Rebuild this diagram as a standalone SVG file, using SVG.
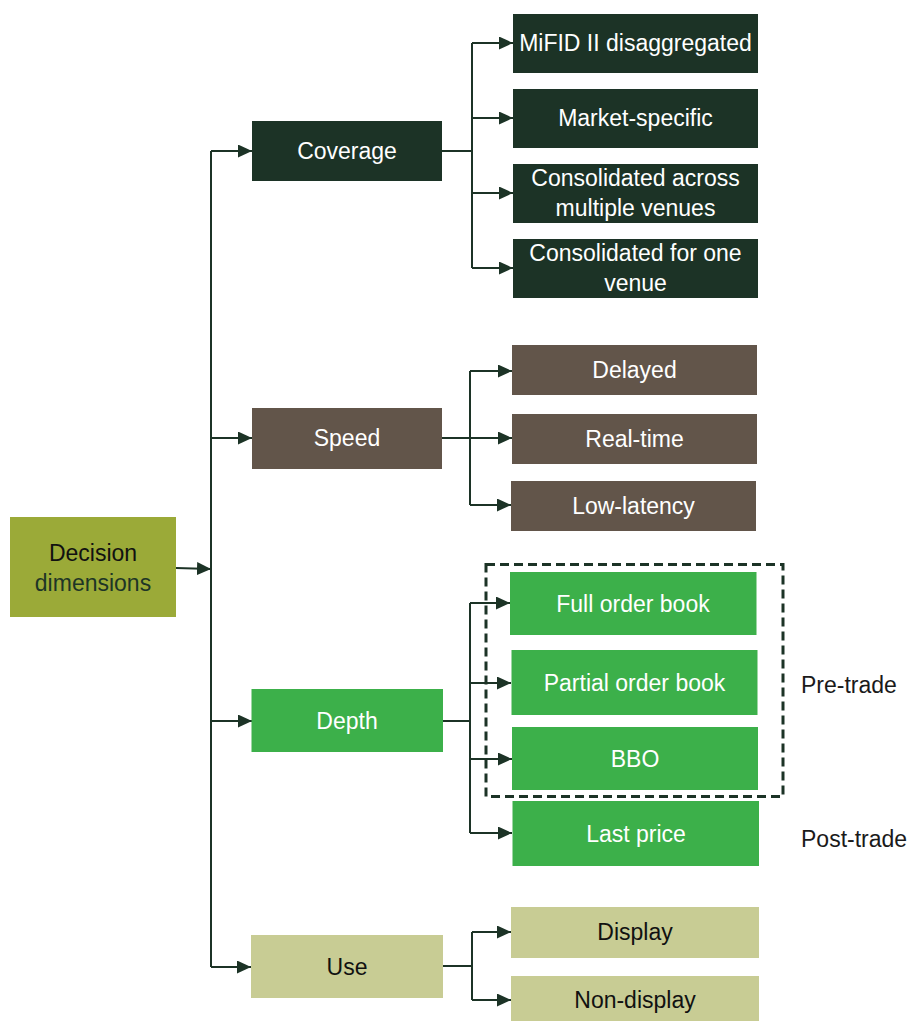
<svg xmlns="http://www.w3.org/2000/svg" width="911" height="1021" viewBox="0 0 911 1021">
  <defs>
    <marker id="arr" viewBox="0 0 14 13" refX="14" refY="6.5" markerWidth="14" markerHeight="13" markerUnits="userSpaceOnUse" orient="auto">
      <path d="M0,0 L14,6.5 L0,13 z" fill="#1c3326"/>
    </marker>
    <style>
      text { font-family: "Liberation Sans", Arial, sans-serif; font-size: 23px; text-anchor: middle; }
      .w { fill: #ffffff; }
      .k { fill: #111111; }
      .cov { fill: #1c3326; }
      .spd { fill: #62554a; }
      .dep { fill: #3cb04a; }
      .use { fill: #c8cc94; }
      .dec { fill: #9baa38; }
      .ln { fill: none; stroke: #1c3326; stroke-width: 2; }
      .ar { fill: none; stroke: #1c3326; stroke-width: 2; marker-end: url(#arr); }
      .lbl { font-family: "Liberation Sans", Arial, sans-serif; font-size: 23px; text-anchor: start; fill: #1a1a1a; }
    </style>
  </defs>
  <rect width="911" height="1021" fill="#ffffff"/>

  <g id="connectors">
    <path class="ar" d="M176,568 L211,569"/>
    <path class="ln" d="M211,151 V967"/>
    <path class="ar" d="M211,151 H252"/>
    <path class="ar" d="M211,438 H252"/>
    <path class="ar" d="M211,721 H252"/>
    <path class="ar" d="M211,967 H251"/>

    <path class="ln" d="M442,151 H472 M472,43 V268"/>
    <path class="ar" d="M472,43 H513"/>
    <path class="ar" d="M472,118 H513"/>
    <path class="ar" d="M472,193 H513"/>
    <path class="ar" d="M472,268 H513"/>

    <path class="ln" d="M442,438 H470 M470,371 V505"/>
    <path class="ar" d="M470,371 H512"/>
    <path class="ar" d="M470,438 H512"/>
    <path class="ar" d="M470,505 H511"/>

    <path class="ln" d="M443,721 H470 M470,603 V833"/>
    <path class="ar" d="M470,603 H510"/>
    <path class="ar" d="M470,683 H511"/>
    <path class="ar" d="M470,759 H512"/>
    <path class="ar" d="M470,833 H512"/>

    <path class="ln" d="M443,966 H472 M472,932 V1000"/>
    <path class="ar" d="M472,932 H511"/>
    <path class="ar" d="M472,1000 H511"/>
  </g>

  <g id="decision">
    <rect class="dec" x="10" y="517" width="166" height="100"/>
    <text x="93" y="561" class="k">Decision</text>
    <text x="93" y="591" fill="#1e3526">dimensions</text>
  </g>

  <g id="coverage">
    <rect class="cov" x="252" y="121" width="190" height="60"/>
    <text x="347" y="159" class="w">Coverage</text>
  </g>
  <g id="mifid">
    <rect class="cov" x="513" y="14" width="245" height="59"/>
    <text x="635.5" y="51" class="w">MiFID II disaggregated</text>
  </g>
  <g id="market-specific">
    <rect class="cov" x="513" y="89" width="245" height="59"/>
    <text x="635.5" y="126" class="w">Market-specific</text>
  </g>
  <g id="consolidated-multi">
    <rect class="cov" x="513" y="164" width="245" height="59"/>
    <text x="635.5" y="186" class="w">Consolidated across</text>
    <text x="635.5" y="216" class="w">multiple venues</text>
  </g>
  <g id="consolidated-one">
    <rect class="cov" x="513" y="239" width="245" height="59"/>
    <text x="635.5" y="261" class="w">Consolidated for one</text>
    <text x="635.5" y="291" class="w">venue</text>
  </g>

  <g id="speed">
    <rect class="spd" x="252" y="408" width="190" height="61"/>
    <text x="347" y="446" class="w">Speed</text>
  </g>
  <g id="delayed">
    <rect class="spd" x="512" y="345" width="245" height="50"/>
    <text x="634.5" y="378" class="w">Delayed</text>
  </g>
  <g id="real-time">
    <rect class="spd" x="512" y="414" width="245" height="50"/>
    <text x="634.5" y="447" class="w">Real-time</text>
  </g>
  <g id="low-latency">
    <rect class="spd" x="511" y="481" width="245" height="50"/>
    <text x="633.5" y="514" class="w">Low-latency</text>
  </g>

  <g id="depth">
    <rect class="dep" x="251.5" y="689" width="191.5" height="63"/>
    <text x="347" y="729" class="w">Depth</text>
  </g>
  <g id="full-order-book">
    <rect class="dep" x="510" y="572" width="246.5" height="63"/>
    <text x="633" y="612" class="w">Full order book</text>
  </g>
  <g id="partial-order-book">
    <rect class="dep" x="511.5" y="650" width="246" height="65"/>
    <text x="634.5" y="691" class="w">Partial order book</text>
  </g>
  <g id="bbo">
    <rect class="dep" x="512" y="727" width="246" height="63"/>
    <text x="635" y="767" class="w">BBO</text>
  </g>
  <g id="last-price">
    <rect class="dep" x="512.5" y="801" width="246.5" height="65"/>
    <text x="636" y="842" class="w">Last price</text>
  </g>
  <g id="pre-trade-group">
    <rect x="486" y="564.5" width="297" height="232" fill="none" stroke="#1c3326" stroke-width="3" stroke-dasharray="9,5"/>
    <text x="801" y="693" class="lbl">Pre-trade</text>
  </g>
  <g id="post-trade">
    <text x="801" y="847" class="lbl">Post-trade</text>
  </g>

  <g id="use">
    <rect class="use" x="251" y="935" width="192" height="63"/>
    <text x="347" y="975" class="k">Use</text>
  </g>
  <g id="display">
    <rect class="use" x="511" y="907" width="248" height="51"/>
    <text x="635" y="940" class="k">Display</text>
  </g>
  <g id="non-display">
    <rect class="use" x="511" y="976" width="248" height="50"/>
    <text x="635" y="1008" class="k">Non-display</text>
  </g>
</svg>
